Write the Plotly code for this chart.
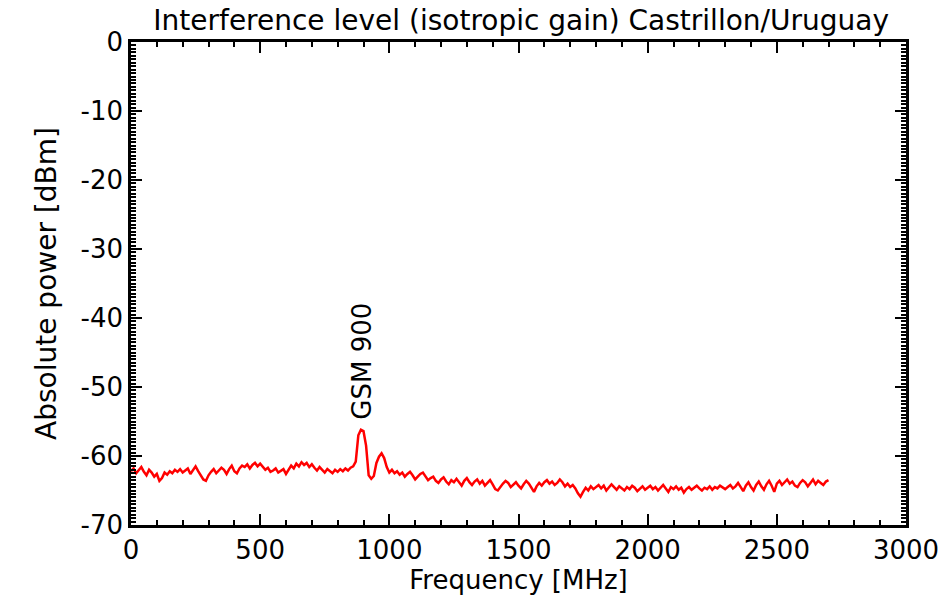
import plotly.graph_objects as go

freq_start = 0
freq_step = 10
power_dbm = [
    -62.2, -61.8, -62.5, -62.0, -61.6, -62.3, -62.8, -62.0, -62.4, -63.0, -62.6,
    -63.6, -63.2, -62.4, -62.7, -62.2, -62.5, -62.0, -62.3, -61.9, -62.4,
    -62.1, -61.8, -62.6, -62.0, -61.5, -62.2, -62.9, -63.4, -63.6, -62.8,
    -62.3, -61.9, -62.5, -62.1, -61.7, -62.0, -62.6, -61.9, -61.4, -62.2,
    -62.5, -61.8, -61.4, -61.6, -61.2, -61.8, -61.3, -61.0, -61.5, -61.1,
    -61.6, -62.0, -61.7, -62.3, -62.1, -61.8, -62.4, -62.2, -61.9, -62.6,
    -62.0, -61.4, -61.8, -61.1, -61.5, -60.9, -61.3, -61.0, -61.6, -61.2,
    -61.7, -62.1, -61.6, -62.0, -62.4, -61.9, -62.2, -62.5, -62.0, -62.3,
    -61.9, -62.2, -61.8, -62.1, -61.7, -61.5, -60.8, -57.0, -56.2, -56.4,
    -58.5, -62.8, -63.3, -62.9, -61.0, -60.1, -59.6, -60.3, -61.6, -62.4,
    -62.0, -62.5, -62.2, -62.7, -62.4, -63.0, -62.6, -62.3, -62.8, -63.4,
    -63.0, -62.6, -62.4, -62.9, -63.5, -63.2, -63.0, -63.6, -63.9, -63.4,
    -63.1, -63.7, -64.1, -63.5, -63.8, -63.3, -63.9, -64.3, -63.6, -63.2,
    -63.8, -64.2, -63.7, -63.4, -64.0, -63.6, -64.3, -63.9, -63.5, -64.1,
    -64.8, -65.0, -64.4, -64.0, -63.6, -63.9, -64.5, -64.2, -63.8, -64.3,
    -64.7, -64.1, -63.6, -64.0, -64.6, -65.2, -64.4, -63.9, -64.3, -63.8,
    -63.5, -64.0, -63.7, -64.2, -63.9, -63.4, -63.8, -64.4, -64.0, -64.5,
    -64.2, -64.7, -65.4, -65.9, -65.2, -64.6, -65.0, -64.4, -64.8, -64.5,
    -64.2, -64.7, -64.3, -65.0, -64.6, -64.1, -64.5, -64.9, -64.4, -64.7,
    -65.0, -64.5, -64.8, -64.3, -64.6, -65.1, -64.7, -64.4, -64.9, -64.6,
    -64.3, -64.8, -64.5, -65.0, -64.6, -64.2, -64.7, -65.2, -64.5, -64.8,
    -64.4, -64.9, -64.6, -65.3, -64.8, -64.5, -64.9, -64.6, -64.3, -64.7,
    -65.0, -64.6, -64.8, -64.4, -64.9, -64.5, -64.7, -64.3, -64.6, -64.8,
    -64.5, -64.2, -64.7, -64.4, -63.9, -64.6, -65.1, -64.3, -63.8, -64.5,
    -65.0, -64.2, -63.7, -64.4, -64.9, -64.1, -63.6, -64.3, -65.2, -64.0,
    -63.6, -64.2, -63.8, -63.4, -64.0, -63.7, -64.3, -64.5, -63.9, -63.5,
    -63.8, -64.4, -63.9, -63.4, -64.1, -63.6, -63.9, -64.2, -63.7, -63.5,
]
frequency_mhz = [freq_start + i * freq_step for i in range(len(power_dbm))]

x_tickvals = [0, 500, 1000, 1500, 2000, 2500, 3000]
x_ticktext = ["0", "500", "1000", "1500", "2000", "2500", "3000"]
y_tickvals = [0, -10, -20, -30, -40, -50, -60, -70]
y_ticktext = ["0", "-10", "-20", "-30", "-40", "-50", "-60", "-70"]

title_text = "Interference level (isotropic gain) Castrillon/Uruguay"
x_title = "Frequency [MHz]"
y_title = "Absolute power [dBm]"
annotation_text = "GSM 900"
annotation_x = 895
annotation_y = -46.3

FONT = "DejaVu Sans, sans-serif"

fig = go.Figure()
fig.add_trace(go.Scatter(
    x=frequency_mhz, y=power_dbm, mode="lines",
    line=dict(color="#ff0000", width=2.5), showlegend=False,
))

fig.add_annotation(
    x=annotation_x, y=annotation_y, text=annotation_text, textangle=-90,
    showarrow=False, font=dict(family=FONT, size=26, color="black"),
)

axis_common = dict(
    showgrid=False, zeroline=False, showline=True, linecolor="black",
    linewidth=2.5, mirror="ticks", ticks="inside", tickcolor="black",
    tickwidth=2, ticklen=11,
    tickfont=dict(family=FONT, size=26, color="black"),
)

fig.update_xaxes(
    range=[0, 3000], tickvals=x_tickvals, ticktext=x_ticktext,
    minor=dict(dtick=100, ticks="inside", ticklen=5, tickcolor="black", tickwidth=2),
    title=dict(text=x_title, font=dict(family=FONT, size=26, color="black"), standoff=0),
    **axis_common,
)
fig.update_yaxes(
    range=[-70, 0], tickvals=y_tickvals, ticktext=y_ticktext,
    minor=dict(dtick=0.5, ticks="inside", ticklen=5, tickcolor="black", tickwidth=2),
    title=dict(text=y_title, font=dict(family=FONT, size=28, color="black"), standoff=16),
    **axis_common,
)

fig.update_layout(
    width=951, height=601,
    margin=dict(l=131, r=37, t=42, b=76),
    paper_bgcolor="white", plot_bgcolor="white",
    title=dict(text=title_text, x=0.548, xanchor="center", y=0.966, yanchor="middle",
               font=dict(family=FONT, size=28, color="black")),
)

fig.write_html("out.html")
